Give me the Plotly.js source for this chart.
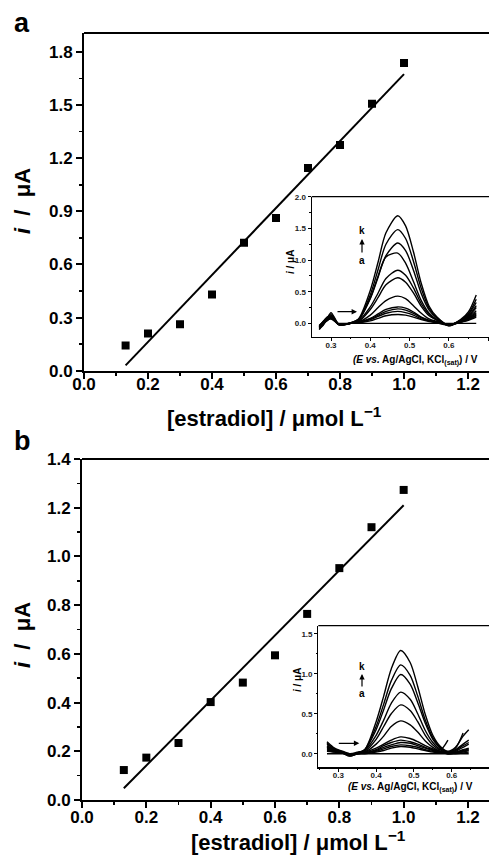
<!DOCTYPE html>
<html><head><meta charset="utf-8">
<script src="https://cdn.plot.ly/plotly-3.0.1.min.js"></script>
<style>html,body{margin:0;padding:0;background:#fff}#chart{width:489px;height:862px}</style>
</head><body><div id="chart"></div>
<script>
// ---- Panel a: calibration data ----
const concA = [0.13,0.2,0.3,0.4,0.5,0.6,0.7,0.8,0.9,1.0];
const currA = [0.143,0.21,0.262,0.43,0.723,0.863,1.145,1.275,1.507,1.738];
const fitAx = [0.13,1.0];
const fitAy = [0.03,1.675];
// ---- Panel b: calibration data ----
const concB = [0.13,0.2,0.3,0.4,0.5,0.6,0.7,0.8,0.9,1.0];
const currB = [0.123,0.174,0.234,0.402,0.482,0.594,0.764,0.952,1.12,1.273];
const fitBx = [0.13,1.0];
const fitBy = [0.048,1.21];

// ---- Inset a voltammograms (E / V) ----
const insetAE = [0.27,0.28,0.29,0.30,0.32,0.35,0.37,0.40,0.42,0.44,0.47,0.49,0.51,0.53,0.55,0.57,0.60,0.63,0.65,0.67];
const insetA_k = [-0.08,-0.02,0.06,0.12,-0.02,0.01,0.07,0.52,0.97,1.43,1.70,1.54,1.13,0.63,0.27,0.10,-0.03,0.06,0.18,0.45];
const insetA_j = [-0.10,0.00,0.08,0.15,-0.01,0.01,0.06,0.45,0.85,1.25,1.48,1.34,0.98,0.55,0.24,0.09,-0.03,0.05,0.15,0.38];
const insetA_i = [-0.06,0.03,0.09,0.10,-0.02,0.00,0.05,0.39,0.73,1.07,1.27,1.15,0.84,0.47,0.21,0.08,-0.04,0.05,0.14,0.33];
const insetA_h = [-0.09,-0.03,0.07,0.17,-0.01,0.01,0.06,0.40,0.75,1.05,1.11,0.95,0.66,0.36,0.16,0.06,-0.03,0.04,0.12,0.28];
const insetA_g = [-0.05,0.02,0.10,0.13,-0.02,0.00,0.04,0.26,0.48,0.71,0.84,0.76,0.56,0.31,0.14,0.05,-0.02,0.04,0.11,0.25];
const insetA_f = [-0.07,0.01,0.06,0.09,-0.01,0.00,0.03,0.22,0.41,0.61,0.72,0.65,0.48,0.27,0.12,0.05,-0.03,0.03,0.10,0.20];
const insetA_e = [-0.04,0.03,0.08,0.11,-0.02,0.00,0.02,0.13,0.25,0.36,0.43,0.39,0.28,0.16,0.07,0.03,-0.02,0.03,0.09,0.17];
const insetA_d = [-0.08,-0.01,0.05,0.07,-0.01,0.00,0.02,0.08,0.15,0.22,0.26,0.24,0.18,0.10,0.05,0.02,-0.02,0.03,0.08,0.15];
const insetA_c = [-0.03,0.02,0.07,0.10,-0.02,0.00,0.01,0.07,0.13,0.19,0.23,0.21,0.16,0.09,0.04,0.02,-0.02,0.02,0.07,0.13];
const insetA_b = [-0.06,0.00,0.04,0.08,-0.01,0.00,0.01,0.06,0.11,0.16,0.19,0.17,0.13,0.07,0.04,0.01,-0.03,0.02,0.06,0.12];
const insetA_a = [-0.04,0.01,0.06,0.09,-0.02,0.00,0.01,0.04,0.08,0.12,0.14,0.13,0.10,0.06,0.03,0.01,-0.02,0.02,0.05,0.10];
const insetA_blank = [null,null,null,null,0,0,0,0,0,0,0,0,0,0,0,0,0,0,0,0];

// ---- Inset b voltammograms ----
const insetBE = [0.27,0.29,0.31,0.33,0.35,0.37,0.40,0.42,0.44,0.465,0.49,0.51,0.53,0.55,0.57,0.59,0.61,0.63,0.645];
const insetB_k = [0.13,0.06,0.02,-0.02,0.01,0.05,0.40,0.72,1.06,1.29,1.14,0.84,0.49,0.23,0.09,0.03,0.08,0.22,0.30];
const insetB_j = [0.10,0.05,0.01,-0.03,0.00,0.05,0.34,0.62,0.91,1.11,0.98,0.72,0.42,0.20,0.08,0.02,0.07,0.26,null];
const insetB_i = [0.08,0.04,0.02,-0.02,0.01,0.05,0.30,0.55,0.81,0.99,0.87,0.64,0.38,0.18,0.07,0.02,0.05,0.12,0.17];
const insetB_h = [0.15,0.07,0.03,-0.01,0.02,0.04,0.23,0.42,0.63,0.77,0.68,0.50,0.29,0.14,0.05,0.01,0.04,0.10,0.14];
const insetB_g = [0.06,0.03,0.01,-0.03,0.00,0.03,0.18,0.34,0.50,0.61,0.54,0.40,0.23,0.11,0.05,0.17,null,null,null];
const insetB_f = [0.12,0.06,0.02,-0.02,0.01,0.02,0.12,0.22,0.34,0.41,0.36,0.27,0.16,0.08,0.03,0.01,0.03,0.08,0.12];
const insetB_e = [0.09,0.05,0.03,0.00,0.01,0.02,0.07,0.12,0.17,0.21,0.19,0.15,0.10,0.06,0.03,0.01,0.02,0.05,0.07];
const insetB_d = [0.07,0.04,0.02,-0.01,0.00,0.01,0.05,0.10,0.14,0.17,0.15,0.12,0.08,0.05,0.02,0.01,0.02,0.04,0.06];
const insetB_c = [0.05,0.03,0.01,-0.02,0.00,0.01,0.04,0.08,0.11,0.14,0.13,0.10,0.07,0.04,0.02,0.00,0.01,0.03,0.05];
const insetB_b = [0.04,0.02,0.01,-0.01,0.00,0.01,0.03,0.06,0.09,0.11,0.10,0.08,0.05,0.03,0.01,0.00,0.01,0.02,0.04];
const insetB_a = [0.03,0.02,0.01,0.00,0.00,0.00,0.02,0.04,0.07,0.09,0.08,0.06,0.04,0.02,0.01,0.00,0.00,0.01,0.02];
const insetB_blank = [0,0,0,0,0,0,0,0,0,0,0,0,0,0,0,0,0,0,0];

const W = 489, H = 862;
const px = v => v / W;
const py = v => 1 - v / H;
const FONT = 'Liberation Sans, Arial, sans-serif';

const traces = [];
function scatter(x, y, xa, ya) {
  traces.push({x, y, xaxis: xa, yaxis: ya, type: 'scatter', mode: 'markers',
    marker: {symbol: 'square', size: 8, color: '#000'}, hoverinfo: 'skip'});
}
function fit(x, y, xa, ya) {
  traces.push({x, y, xaxis: xa, yaxis: ya, type: 'scatter', mode: 'lines',
    line: {color: '#000', width: 2}, hoverinfo: 'skip'});
}
function curve(x, y, xa, ya) {
  traces.push({x, y, xaxis: xa, yaxis: ya, type: 'scatter', mode: 'lines',
    line: {color: '#000', width: 1.4, shape: 'spline', smoothing: 0.8}, connectgaps: false, hoverinfo: 'skip'});
}
scatter(concA, currA, 'x', 'y'); fit(fitAx, fitAy, 'x', 'y');
scatter(concB, currB, 'x3', 'y3'); fit(fitBx, fitBy, 'x3', 'y3');
[insetA_blank, insetA_a, insetA_b, insetA_c, insetA_d, insetA_e, insetA_f, insetA_g, insetA_h, insetA_i, insetA_j, insetA_k]
  .forEach(c => curve(insetAE, c, 'x2', 'y2'));
[insetB_blank, insetB_a, insetB_b, insetB_c, insetB_d, insetB_e, insetB_f, insetB_g, insetB_h, insetB_i, insetB_j, insetB_k]
  .forEach(c => curve(insetBE, c, 'x4', 'y4'));

const mainTick = {family: FONT, size: 17, color: '#000', weight: 700};
const insetTick = {family: FONT, size: 8, color: '#222', weight: 700};
function mainAxis(dom, range, dtick, minor, anchor, standoff) {
  return {domain: dom, range, anchor, dtick, tick0: 0, tickformat: '.1f', showline: true, linewidth: 2,
    linecolor: '#000', ticks: 'outside', ticklen: 6, tickwidth: 2, tickcolor: '#000',
    ticklabelstandoff: standoff,
    minor: {dtick: minor, tick0: 0, ticks: 'outside', ticklen: 3, tickwidth: 1.5, tickcolor: '#000', showgrid: false},
    showgrid: false, zeroline: false, tickfont: mainTick, mirror: false, fixedrange: true};
}
function insetAxis(dom, range, dtick, minor, anchor, standoff) {
  return {domain: dom, range, anchor, dtick, tick0: 0, tickformat: '.1f', showline: true, linewidth: 1.2,
    linecolor: '#000', ticks: 'outside', ticklen: 3, tickwidth: 1, tickcolor: '#000',
    ticklabelstandoff: standoff,
    minor: {dtick: minor, tick0: 0, ticks: 'outside', ticklen: 1.5, tickwidth: 1, tickcolor: '#000', showgrid: false},
    showgrid: false, zeroline: false, tickfont: insetTick, mirror: false, fixedrange: true};
}

const layout = {
  width: W, height: H, margin: {l: 0, r: 0, t: 0, b: 0}, showlegend: false,
  paper_bgcolor: '#fff', plot_bgcolor: 'rgba(0,0,0,0)',
  font: {family: FONT, color: '#000'},
  xaxis: mainAxis([px(84), 1], [0, 1.2656], 0.2, 0.1, 'y', -9),
  yaxis: mainAxis([py(370.7), py(33)], [0, 1.907], 0.3, 0.15, 'x', 0),
  xaxis2: insetAxis([px(311.7), 1], [0.2508, 0.7025], 0.1, 0.05, 'y2', -3),
  yaxis2: insetAxis([py(336.7), py(196.7)], [-0.21, 2.0], 0.5, 0.25, 'x2', 0),
  xaxis3: mainAxis([px(82), 1], [0, 1.2653], 0.2, 0.1, 'y3', -5),
  yaxis3: mainAxis([py(800), py(459)], [0, 1.4], 0.2, 0.1, 'x3', 0),
  xaxis4: insetAxis([px(318.3), 1], [0.247, 0.6986], 0.1, 0.05, 'y4', -3),
  yaxis4: insetAxis([py(767.3), py(625.7)], [-0.17, 1.60], 0.5, 0.25, 'x4', 0),
  shapes: [
    {type: 'rect', xref: 'paper', yref: 'paper', x0: px(311.7), x1: 1, y0: py(336.7), y1: py(196.7), fillcolor: '#fff', line: {width: 0}, layer: 'below'},
    {type: 'rect', xref: 'paper', yref: 'paper', x0: px(318.3), x1: 1, y0: py(767.3), y1: py(625.7), fillcolor: '#fff', line: {width: 0}, layer: 'below'},
    {type: 'line', xref: 'x domain', yref: 'y domain', x0: 0, x1: 1, y0: 1, y1: 1, line: {color: '#000', width: 2}},
    {type: 'line', xref: 'x3 domain', yref: 'y3 domain', x0: 0, x1: 1, y0: 1, y1: 1, line: {color: '#000', width: 2}},
    {type: 'line', xref: 'x2 domain', yref: 'y2 domain', x0: 0, x1: 1, y0: 1, y1: 1, line: {color: '#000', width: 1.2}},
    {type: 'line', xref: 'x4 domain', yref: 'y4 domain', x0: 0, x1: 1, y0: 1, y1: 1, line: {color: '#000', width: 1.2}}
  ],
  annotations: []
};

function txt(text, x, y, size, opts) {
  layout.annotations.push(Object.assign({text, x: px(x), y: py(y), xref: 'paper', yref: 'paper',
    showarrow: false, xanchor: 'center', yanchor: 'middle',
    font: {family: FONT, size, color: '#000', weight: 700}}, opts || {}));
}
function arrow(xh, yh, ax, ay) {
  layout.annotations.push({text: '', x: px(xh), y: py(yh), xref: 'paper', yref: 'paper', showarrow: true,
    ax, ay, arrowhead: 2, arrowsize: 0.9, arrowwidth: 1.2, arrowcolor: '#000'});
}
// panel letters
txt('a', 22, 23, 27);
txt('b', 22, 441, 27);
// main axis titles
txt('[estradiol] / μmol L<sup>−1</sup>', 274, 417, 22);
txt('[estradiol] / μmol L<sup>−1</sup>', 298, 841, 22);
txt('<i>i</i>&nbsp;&nbsp;/&nbsp;&nbsp;μA', 22, 201, 22, {textangle: -90});
txt('<i>i</i>&nbsp;&nbsp;/&nbsp;&nbsp;μA', 22, 635, 22, {textangle: -90});
// inset titles
txt('<i>(E vs.</i> Ag/AgCl, KCl<sub>(sat)</sub>) / V', 415, 360, 10);
txt('<i>(E vs.</i> Ag/AgCl, KCl<sub>(sat)</sub>) / V', 410, 787, 10);
txt('<i>i</i> / μA', 290, 262, 10, {textangle: -90});
txt('<i>i</i> / μA', 297, 680, 10, {textangle: -90});
// k / a labels and arrows
txt('k', 362, 231, 10);
txt('a', 362, 260, 10);
arrow(362, 239, 0, 15);
arrow(357, 311.7, -21, 0);
txt('k', 362, 666, 10);
txt('a', 362, 693, 10);
arrow(362, 674, 0, 14);
arrow(359.3, 743.3, -22, 0);

Plotly.newPlot('chart', traces, layout, {displayModeBar: false, staticPlot: true});
</script>
</body></html>
